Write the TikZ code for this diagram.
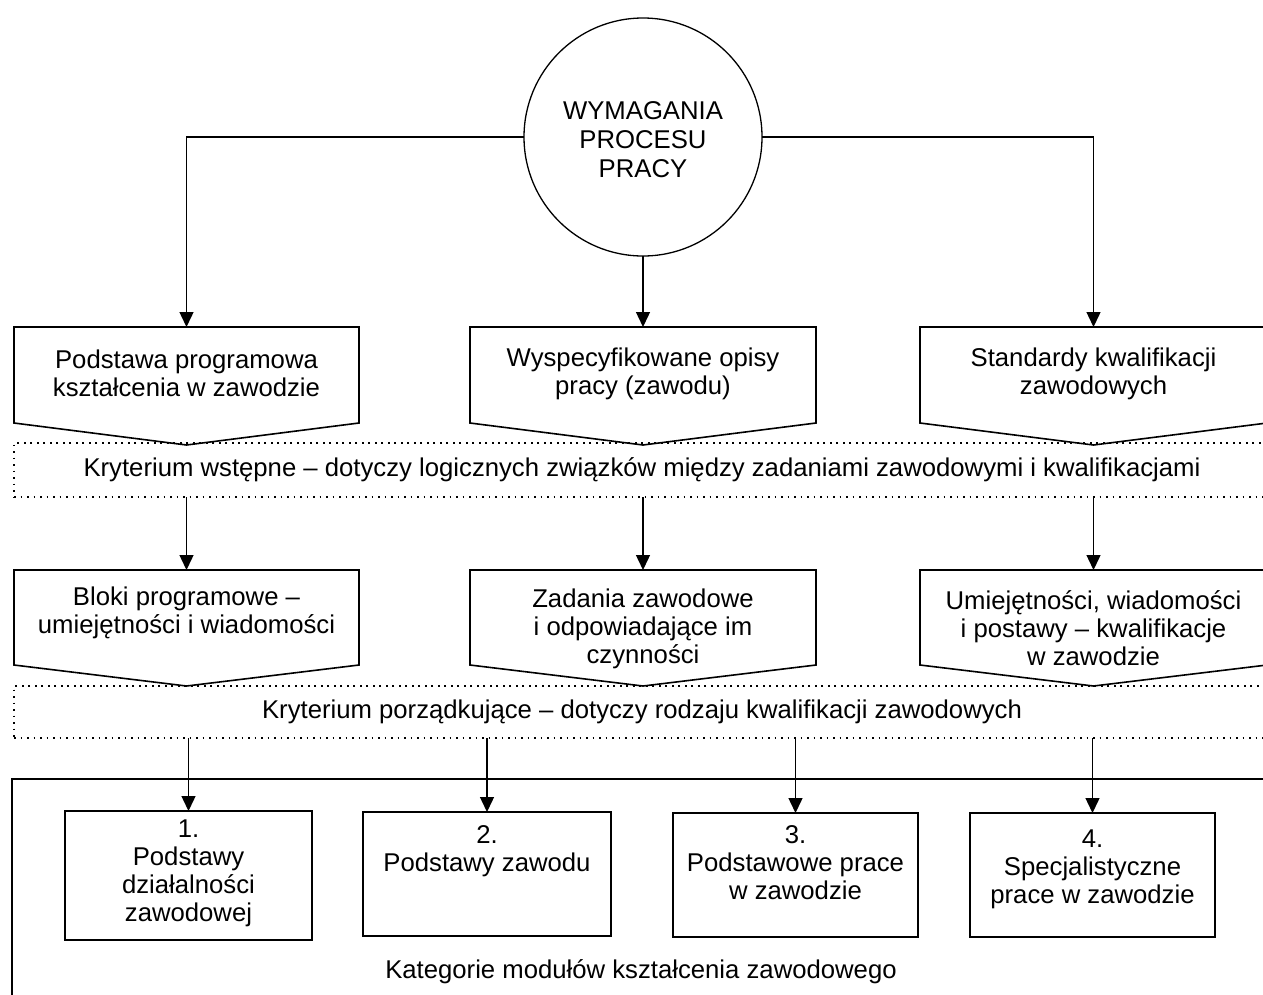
\documentclass[tikz,border=0pt]{standalone}
\usepackage{fontspec}
\setmainfont{Liberation Sans}
\usetikzlibrary{arrows.meta}
\begin{document}
\begin{tikzpicture}[x=1pt,y=-1pt,
  font=\fontsize{25.7}{28}\selectfont,
  every node/.style={inner sep=0pt, outer sep=0pt},
  arr/.style={line width=1.4pt, -{Triangle[length=15pt,width=14pt]}},
  pentarea/.style={rectangle, minimum height=96pt},
  outline/.style={line width=1.6pt, line join=miter},
  crit/.style={draw, line width=1.7pt, dash pattern=on 1.7pt off 4.8pt,
    minimum width=1256pt},
  catbox/.style={draw, line width=1.5pt, minimum height=124pt},
  txt/.style={align=center},
  frame/.style={draw, line width=2.2pt}
]
\useasboundingbox (0,0) rectangle (1263,994);
\clip (0,0) rectangle (1263,994);

% pentagon outline around a rectangular node, with its point below
\newcommand\pentoutline[2]{%
  \draw[outline] (#1.north west) -- (#1.north east) -- (#1.south east)
    -- ([yshift=-#2]#1.south) -- (#1.south west) -- cycle;}

% central requirement circle
\node[circle, draw, line width=1.3pt, minimum size=238pt] (c) at (643,137) {};
\node[txt, font=\fontsize{25.7}{29}\selectfont] (ct) at (643,140) {WYMAGANIA\\PROCESU\\PRACY};

% first row of documents
\node[pentarea, minimum width=345pt] (p1) at (186.5,375) {};
\node[pentarea, minimum width=346pt] (p2) at (643,375) {};
\node[pentarea, minimum width=347pt] (p3) at (1093.5,375) {};
\pentoutline{p1}{22pt}
\pentoutline{p2}{22pt}
\pentoutline{p3}{22pt}
\node[txt] (p1t) at (186.5,373) {Podstawa programowa\\kształcenia w zawodzie};
\node[txt] (p2t) at (643,374) {Wyspecyfikowane opisy\\pracy (zawodu)};
\node[txt] (p3t) at (1093.5,374) {Standardy kwalifikacji\\zawodowych};

% first criterion band
\node[crit, minimum height=54pt] (k1) at (642,470)
  {Kryterium wstępne – dotyczy logicznych związków między zadaniami zawodowymi i kwalifikacjami};

% second row of documents
\node[pentarea, minimum width=345pt, minimum height=95pt] (q1) at (186.5,617.5) {};
\node[pentarea, minimum width=346pt, minimum height=95pt] (q2) at (643,617.5) {};
\node[pentarea, minimum width=347pt, minimum height=95pt] (q3) at (1093.5,617.5) {};
\pentoutline{q1}{21pt}
\pentoutline{q2}{21pt}
\pentoutline{q3}{21pt}
\node[txt] (q1t) at (186.5,613) {Bloki programowe –\\umiejętności i wiadomości};
\node[txt] (q2t) at (643,629) {Zadania zawodowe\\i odpowiadające im\\czynności};
\node[txt] (q3t) at (1093.5,628) {Umiejętności, wiadomości\\i postawy – kwalifikacje\\w zawodzie};

% second criterion band
\node[crit, minimum height=52pt] (k2) at (642,712)
  {Kryterium porządkujące – dotyczy rodzaju kwalifikacji zawodowych};

% frame holding the module categories
\node[frame, minimum width=1278pt, minimum height=231pt] (fr) at (651,894.5) {};

\node[catbox, minimum width=247pt, minimum height=129pt] (b1) at (188.5,875.5) {};
\node[catbox, minimum width=248pt] (b2) at (487,874) {};
\node[catbox, minimum width=245pt] (b3) at (795.5,875) {};
\node[catbox, minimum width=245pt] (b4) at (1092.5,875) {};
\node[txt, anchor=north] (b1t) at ([yshift=-9pt]b1.north) {1.\\Podstawy\\działalności\\zawodowej};
\node[txt, anchor=north] (b2t) at ([yshift=-14pt]b2.north) {2.\\Podstawy zawodu};
\node[txt, anchor=north] (b3t) at ([yshift=-13pt]b3.north) {3.\\Podstawowe prace\\w zawodzie};
\node[txt, anchor=north] (b4t) at ([yshift=-17pt]b4.north) {4.\\Specjalistyczne\\prace w zawodzie};

\node[txt] (cat) at (641,972) {Kategorie modułów kształcenia zawodowego};

% connectors
\draw[arr] (c.west) -| (p1.north);
\draw[arr] (c.south) -- (p2.north);
\draw[arr] (c.east) -| (p3.north);

\draw[arr] (k1.south -| q1.north) -- (q1.north);
\draw[arr] (k1.south -| q2.north) -- (q2.north);
\draw[arr] (k1.south -| q3.north) -- (q3.north);

\draw[arr] (k2.south -| b1.north) -- (b1.north);
\draw[arr] (k2.south -| b2.north) -- (b2.north);
\draw[arr] (k2.south -| b3.north) -- (b3.north);
\draw[arr] (k2.south -| b4.north) -- (b4.north);
\end{tikzpicture}
\end{document}
